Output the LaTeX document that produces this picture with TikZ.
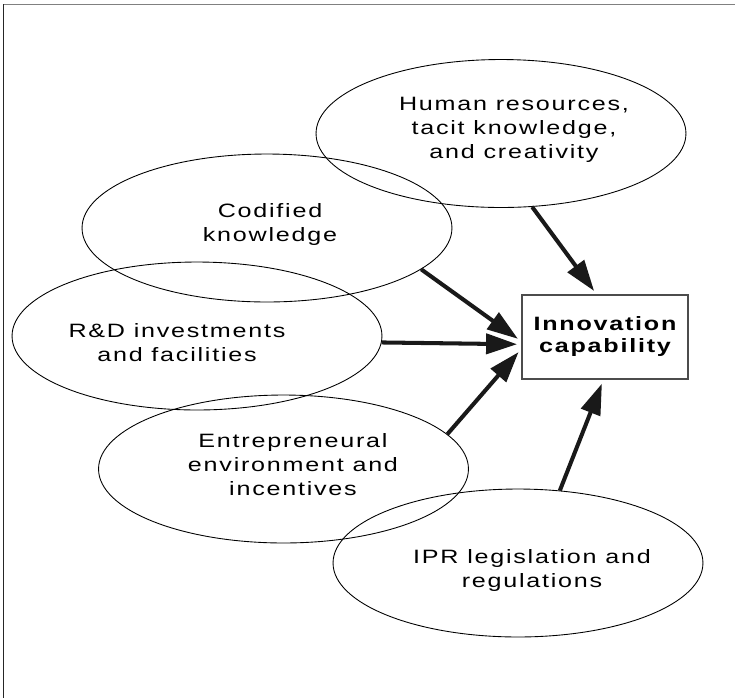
\documentclass[tikz,border=0pt]{standalone}
\usepackage{fontspec}
\setmainfont{Liberation Sans}[LetterSpace=7]
\usetikzlibrary{arrows.meta,shapes.geometric}
\newcommand{\ancho}[1]{\scalebox{1.3}[1]{\begin{tabular}{@{}c@{}}#1\end{tabular}}}

\begin{document}
\begin{tikzpicture}[x=0.02cm,y={(0,-0.02cm)},line width=0.5pt,>={Triangle[length=6.2mm,width=4mm]},
  oval/.style={draw,ellipse,minimum width=7.4cm,minimum height=2.96cm,inner sep=0pt},
  txt/.style={inner sep=0pt,font=\fontsize{11}{13.6}\selectfont},
  caja/.style={draw=black!70,line width=0.6pt,minimum width=3.32cm,minimum height=1.68cm,font=\fontsize{11}{13}\selectfont\bfseries},
  flecha/.style={->,line width=2.3pt,black!90,shorten >=2.5pt}]
  \useasboundingbox (0,0) rectangle (735,698);
  % marco
  \draw[gray,line width=0.8pt] (3,4.5)--(735,4.5);
  \draw[black!85,line width=0.8pt] (3.5,4)--(3.5,698);
  % factores
  \node[oval] (hum) at (501,133.5){};
  \node[txt] (humt) at (514,130){\ancho{Human resources,\\tacit knowledge,\\and creativity}};
  \node[oval] (cod) at (267,228){};
  \node[txt] (codt) at (270,225){\ancho{Codified\\knowledge}};
  \node[oval] (rd) at (197,336){};
  \node[txt] (rdt) at (177,345){\ancho{R\&D investments\\and facilities}};
  \node[oval] (ent) at (283.5,469){};
  \node[txt] (entt) at (293,467){\ancho{Entrepreneural\\environment and\\incentives}};
  \node[oval] (ipr) at (518,563){};
  \node[txt] (iprt) at (532,571){\ancho{IPR legislation and\\regulations}};
  % capacidad
  \node[caja] (innov) at (605,337){\ancho{Innovation\\capability}};
  % flechas
  \draw[flecha] (hum.-67)--(innov.101);
  \draw[flecha] (cod.-15)--(innov.183);
  \draw[flecha] (rd.-2.4)--(innov.185);
  \draw[flecha] (ent.12)--(innov.188);
  \draw[flecha] (ipr.60)--(innov.-92);
\end{tikzpicture}
\end{document}
